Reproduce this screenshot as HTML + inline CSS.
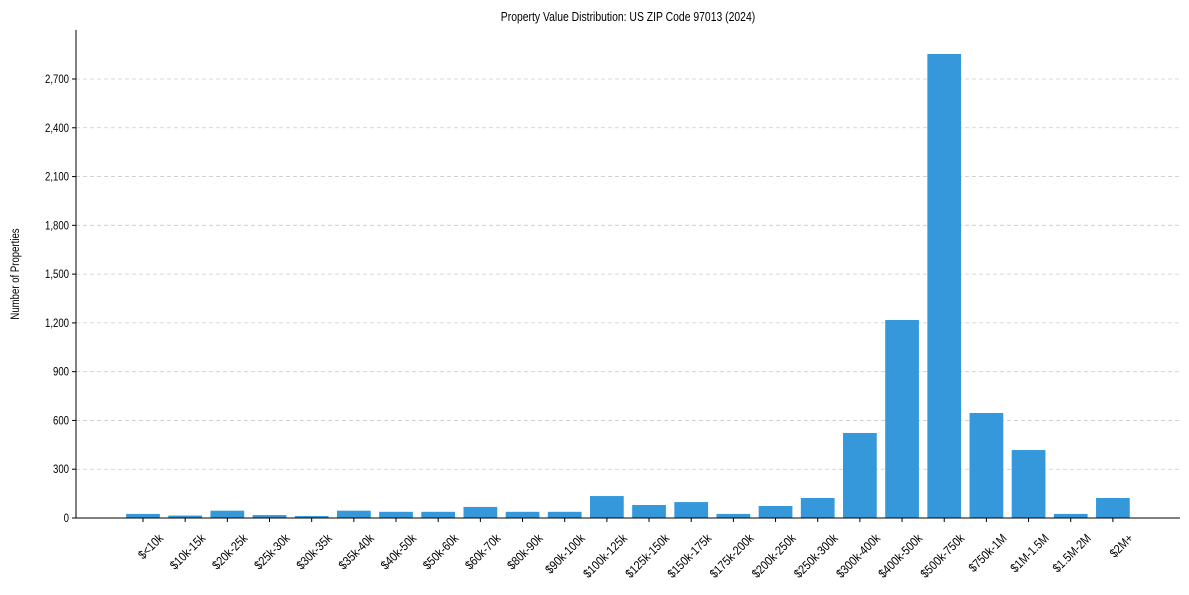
<!DOCTYPE html>
<html><head><meta charset="utf-8"><style>
body{margin:0;background:#fff;}
svg text{font-family:"Liberation Sans",Arial,sans-serif;fill:#000;}
</style></head><body>
<svg id="chart" width="1189" height="590"></svg>
<script>
const categories=["$<10k","$10k-15k","$20k-25k","$25k-30k","$30k-35k","$35k-40k","$40k-50k","$50k-60k","$60k-70k","$80k-90k","$90k-100k","$100k-125k","$125k-150k","$150k-175k","$175k-200k","$200k-250k","$250k-300k","$300k-400k","$400k-500k","$500k-750k","$750k-1M","$1M-1.5M","$1.5M-2M","$2M+"];
const values=[25,15,45,18,12,45,38,38,68,38,38,135,80,98,25,74,123,523,1218,2854,646,418,25,123];
const yTicks=[0,300,600,900,1200,1500,1800,2100,2400,2700];
const yTickLabels=["0","300","600","900","1,200","1,500","1,800","2,100","2,400","2,700"];

const svg=document.getElementById('chart');
const NS='http://www.w3.org/2000/svg';
const L=76,R=1180,T=30,B=518;
const step=42.17, x0=143;
const SX=0.8;
function xPos(i){return x0+i*step;}
function yPos(v){return B-v*(439/2700);}
function mk(tag,attrs,parent){const e=document.createElementNS(NS,tag);for(const k in attrs)e.setAttribute(k,attrs[k]);(parent||svg).appendChild(e);return e;}

const title=mk('text',{x:0,y:0,'text-anchor':'middle','font-size':13,transform:`translate(628,21) scale(${SX},1)`});
title.textContent='Property Value Distribution: US ZIP Code 97013 (2024)';



yTicks.forEach((v,i)=>{
  const y=yPos(v);
  if(v>0){const g=mk('line',{x1:L,x2:R,y1:y,y2:y,stroke:'#ccc','stroke-dasharray':'4,3','stroke-width':0.8});
  
  }
  mk('line',{x1:L-4,x2:L,y1:y,y2:y,stroke:'#000'});
  const t=mk('text',{x:0,y:0,'text-anchor':'end','font-size':12,transform:`translate(${L-7},${y+4}) scale(${SX},1)`});
  t.textContent=yTickLabels[i];
  
  
});

const bw=step*0.8;
values.forEach((v,i)=>{
  const cx=xPos(i);
  const r=mk('rect',{x:cx-bw/2,y:yPos(v),width:bw,height:B-yPos(v),fill:'#3498db'});
  
  
  mk('line',{x1:cx,x2:cx,y1:B,y2:B+4,stroke:'#000'});
  const ax=cx+21, ay=B+21;
  const t=mk('text',{x:0,y:0,'text-anchor':'end','font-size':12.5,transform:`translate(${ax},${ay}) rotate(-45) scale(0.86,1)`});
  t.textContent=categories[i];
  
  
});

const ya=mk('line',{x1:L,x2:L,y1:T,y2:B,stroke:'#000'});


const xa=mk('line',{x1:L,x2:R,y1:B,y2:B,stroke:'#000'});



const yl=mk('text',{x:0,y:0,'text-anchor':'middle','font-size':12,transform:`translate(19,274) rotate(-90) scale(${SX},1)`});
yl.textContent='Number of Properties';


</script>
</body></html>
